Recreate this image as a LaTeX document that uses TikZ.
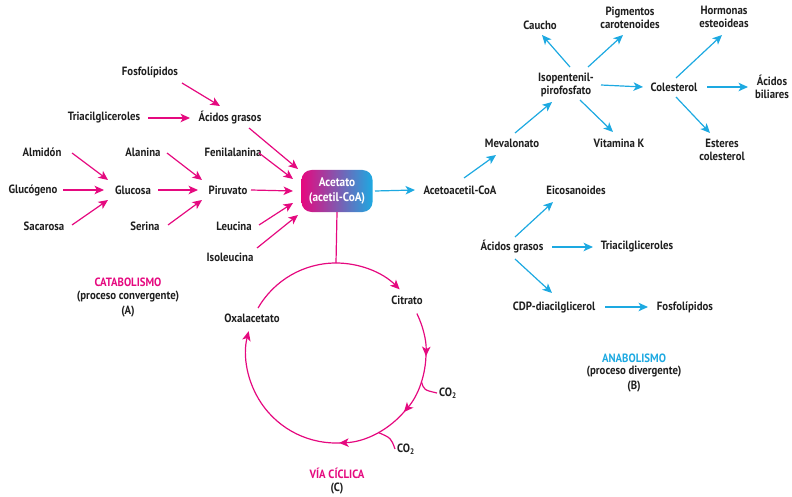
\documentclass[tikz,border=0pt]{standalone}
\usepackage{fontspec}
\setmainfont{PT Sans}[FakeStretch=0.9]
\usetikzlibrary{arrows.meta,calc}
\definecolor{pk}{HTML}{E5097F}
\definecolor{bl}{HTML}{1DA9E1}
\begin{document}
\begin{tikzpicture}[x=1pt,y=-1pt,
  font=\bfseries\fontsize{12}{13.5}\selectfont,
  lbl/.style={inner sep=2pt, align=center, text=black!88},
  ttl/.style={inner sep=1pt, align=center, text=black!88},
  pa/.style={draw=pk, line width=1.2pt, -{Stealth[length=9.5pt,width=8.5pt,inset=2.5pt]}},
  ba/.style={draw=bl, line width=1.2pt, -{Stealth[length=9.5pt,width=8.5pt,inset=2.5pt]}},
  cyc/.style={draw=pk, line width=1.2pt},
  cyctip/.style={cyc, -{Stealth[length=9.5pt,width=8.5pt,inset=2.5pt]}},
  acbox/.style={rounded corners=10pt, left color=pk, right color=bl, text=white,
    minimum width=71pt, minimum height=42pt, align=center, inner sep=2pt,
    font=\bfseries\fontsize{12.5}{14.5}\selectfont}]
\useasboundingbox (0,0) rectangle (792,497);

% --- catabolism: converging inputs ---
\node[lbl] (fosL) at (150,72)  {Fosfolípidos};
\node[lbl] (triL) at (104,118) {Triacilgliceroles};
\node[lbl] (agL)  at (230,118) {Ácidos grasos};
\node[lbl] (alm)  at (42,152)  {Almidón};
\node[lbl] (gluc) at (33,190)  {Glucógeno};
\node[lbl] (sac)  at (44,226)  {Sacarosa};
\node[lbl] (glu)  at (133,190) {Glucosa};
\node[lbl] (ala)  at (143,152) {Alanina};
\node[lbl] (ser)  at (145,226) {Serina};
\node[lbl] (pir)  at (228,190) {Piruvato};
\node[lbl] (fen)  at (233,152) {Fenilalanina};
\node[lbl] (leu)  at (234,226) {Leucina};
\node[lbl] (iso)  at (230,257) {Isoleucina};
\node[acbox] (ace) at (337,191) {Acetato\\(acetil-CoA)};

\draw[pa] ([shift={(32,11)}]fosL.center) -- ([shift={(-10,-12)}]agL.center);
\draw[pa] ([shift={(44,0)}]triL.center)  -- ([shift={(-40,0)}]agL.center);
\draw[pa] ([shift={(30,1)}]alm.center)   -- ([shift={(-25,-10)}]glu.center);
\draw[pa] ([shift={(30,0)}]gluc.center)  -- ([shift={(-29,0)}]glu.center);
\draw[pa] ([shift={(28,-1)}]sac.center)  -- ([shift={(-25,10)}]glu.center);
\draw[pa] ([shift={(25,0)}]glu.center)   -- ([shift={(-30,0)}]pir.center);
\draw[pa] ([shift={(24,1)}]ala.center)   -- ([shift={(-26,-10)}]pir.center);
\draw[pa] ([shift={(23,-1)}]ser.center)  -- ([shift={(-26,10)}]pir.center);
\draw[pa] ([shift={(19,10)}]agL.center)  -- ([shift={(-39,-22)}]ace.center);
\draw[pa] ([shift={(26,1)}]fen.center)   -- ([shift={(-44,-12)}]ace.center);
\draw[pa] ([shift={(23,0)}]pir.center)   -- ([shift={(-44,0)}]ace.center);
\draw[pa] ([shift={(25,-1)}]leu.center)  -- ([shift={(-44,12)}]ace.center);
\draw[pa] ([shift={(27,-9)}]iso.center)  -- ([shift={(-39,24)}]ace.center);

\node[ttl, text=pk] (catT) at (128,282) {CATABOLISMO};
\node[ttl] (catS) at (128,297) {(proceso convergente)};
\node[ttl] (catL) at (128,312) {(A)};

% --- anabolism: diverging outputs ---
\node[lbl] (aca) at (460,190) {Acetoacetil-CoA};
\node[lbl] (mev) at (512,143) {Mevalonato};
\node[lbl] (ipp) at (566,85)  {Isopentenil-\\pirofosfato};
\node[lbl] (cau) at (540,25)  {Caucho};
\node[lbl] (pig) at (630,18)  {Pigmentos\\carotenoides};
\node[lbl] (vit) at (619,143) {Vitamina K};
\node[lbl] (col) at (674,87)  {Colesterol};
\node[lbl] (hor) at (724,17)  {Hormonas\\esteoideas};
\node[lbl] (bil) at (772,87)  {Ácidos\\biliares};
\node[lbl] (est) at (722,150) {Esteres\\colesterol};
\node[lbl] (eic) at (576,190) {Eicosanoides};
\node[lbl] (agR) at (512,247) {Ácidos grasos};
\node[lbl] (triR) at (637,247) {Triacilgliceroles};
\node[lbl] (cdp) at (554,307) {CDP-diacilglicerol};
\node[lbl] (fosR) at (685,307) {Fosfolípidos};

\draw[ba] ([shift={(38,0)}]ace.center)  -- ([shift={(-45,0)}]aca.center);
\draw[ba] ([shift={(4,-12)}]aca.center) -- ([shift={(-16,12)}]mev.center);
\draw[ba] ([shift={(3,-10)}]mev.center) -- ([shift={(-14,17)}]ipp.center);
\draw[ba] ([shift={(4,-18)}]ipp.center) -- ([shift={(2,10)}]cau.center);
\draw[ba] ([shift={(22,-18)}]ipp.center) -- ([shift={(-7,17)}]pig.center);
\draw[ba] ([shift={(14,15)}]ipp.center) -- ([shift={(-6,-11)}]vit.center);
\draw[ba] ([shift={(35,0)}]ipp.center)  -- ([shift={(-31,0)}]col.center);
\draw[ba] ([shift={(2,-9)}]col.center)  -- ([shift={(-2,18)}]hor.center);
\draw[ba] ([shift={(33,0)}]col.center)  -- ([shift={(-24,0)}]bil.center);
\draw[ba] ([shift={(2,10)}]col.center)  -- ([shift={(-12,-17)}]est.center);
\draw[ba] ([shift={(3,-10)}]agR.center) -- ([shift={(-23,12)}]eic.center);
\draw[ba] ([shift={(40,0)}]agR.center)  -- ([shift={(-44,0)}]triR.center);
\draw[ba] ([shift={(3,12)}]agR.center)  -- ([shift={(-2,-14)}]cdp.center);
\draw[ba] ([shift={(51,0)}]cdp.center)  -- ([shift={(-37,0)}]fosR.center);

\node[ttl, text=bl] (anaT) at (634,358) {ANABOLISMO};
\node[ttl] (anaS) at (634,372) {(proceso divergente)};
\node[ttl] (anaL) at (634,387) {(B)};

% --- cyclic pathway ---
\coordinate (cc) at (336,353);
\draw[cyc] (ace.south) -- ([shift={(270:90)}]cc);
\draw[cyctip] ([shift={(210:90)}]cc) arc[start angle=210, end angle=315, radius=90];
\draw[cyctip] ([shift={(334:90)}]cc) arc[start angle=334, end angle=362, radius=90];
\draw[cyctip] ([shift={(360:90)}]cc) arc[start angle=360, end angle=401, radius=90];
\draw[cyctip] ([shift={(399:90)}]cc) arc[start angle=399, end angle=448, radius=90];
\draw[cyctip] ([shift={(446:90)}]cc) arc[start angle=446, end angle=554, radius=90];

\node[lbl] (cit) at (407,300) {Citrato};
\node[lbl] (oxa) at (252,318) {Oxalacetato};
\node[lbl, anchor=west] (co1) at (437,393) {CO\textsubscript{2}};
\node[lbl, anchor=west] (co2) at (395,449) {CO\textsubscript{2}};
\draw[cyc] ([shift={(18.5:90)}]cc) .. controls (424,390) .. (co1.west);
\draw[cyc] ([shift={(62:90)}]cc) .. controls (391,438) .. (co2.west);

\node[ttl, text=pk] (viaT) at (337,473) {VÍA CÍCLICA};
\node[ttl] (viaL) at (337,489) {(C)};
\end{tikzpicture}
\end{document}
